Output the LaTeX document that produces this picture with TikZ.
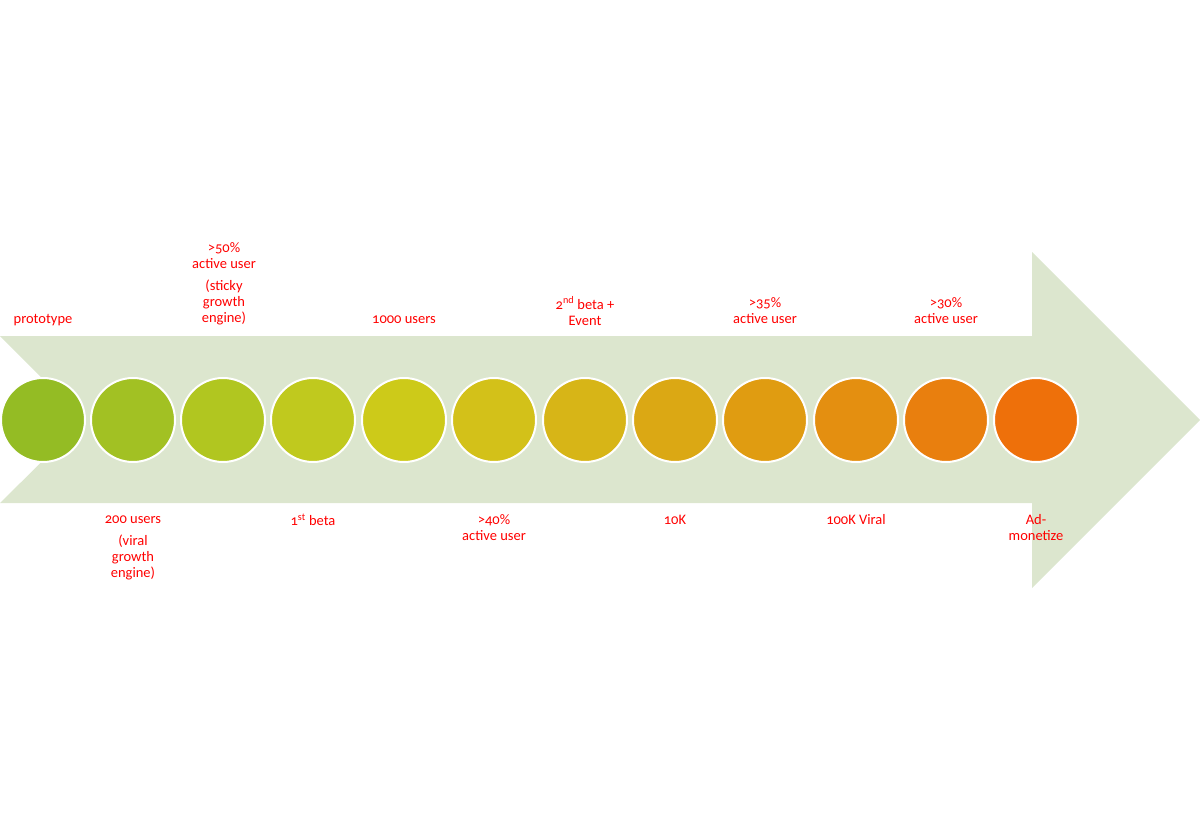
\documentclass[tikz,border=0pt]{standalone}
\usepackage{fontspec}
\setmainfont{Carlito}[Numbers=OldStyle]
\definecolor{arrowfill}{HTML}{DCE6CE}
\definecolor{lbl}{HTML}{FF0000}
\definecolor{k1}{HTML}{94BC24}
\definecolor{k2}{HTML}{A2C123}
\definecolor{k3}{HTML}{B1C620}
\definecolor{k4}{HTML}{C0C91E}
\definecolor{k5}{HTML}{CDCA19}
\definecolor{k6}{HTML}{D3C119}
\definecolor{k7}{HTML}{D7B517}
\definecolor{k8}{HTML}{DBA814}
\definecolor{k9}{HTML}{E09C11}
\definecolor{k10}{HTML}{E48F10}
\definecolor{k11}{HTML}{E97F0E}
\definecolor{k12}{HTML}{EE700A}
\tikzset{
  dot/.style={circle, draw=white, line width=2pt, minimum size=84pt, inner sep=0pt},
  lab/.style={text=lbl, font=\fontsize{14.5}{16}\selectfont, align=center, inner sep=0pt}
}
\begin{document}
\begin{tikzpicture}[x=1pt,y=-1pt]
\useasboundingbox (0,0) rectangle (1200,840);
% arrow
\fill[arrowfill] (0,336) -- (1032,336) -- (1032,252) -- (1200,420) -- (1032,588) -- (1032,503) -- (0,503) -- (84,420) -- cycle;
% circles
\foreach \i/\x in {1/43,2/133,3/223,4/313,5/404,6/494,7/585,8/675,9/765,10/856,11/946,12/1036}{
  \node[dot, fill=k\i] (c\i) at (\x,420) {};
}
% top labels
\node[lab] (t1) at (43,320) {prototype};
\node[lab] (t3a) at (224,256) {>50\%\\active user};
\node[lab] (t3b) at (224,302) {(sticky\\growth\\engine)};
\node[lab] (t5) at (404,320) {1000 users};
\node[lab] (t7) at (585,311) {2\textsuperscript{nd} beta +\\Event};
\node[lab] (t9) at (765,311) {>35\%\\active user};
\node[lab] (t11) at (946,311) {>30\%\\active user};
% bottom labels
\node[lab] (b2a) at (133,520) {200 users};
\node[lab] (b2b) at (133,557) {(viral\\growth\\engine)};
\node[lab] (b4) at (313,520) {1\textsuperscript{st} beta};
\node[lab] (b6) at (494,528) {>40\%\\active user};
\node[lab] (b8) at (675,520) {10K};
\node[lab] (b10) at (856,520) {100K Viral};
\node[lab] (b12) at (1036,528) {Ad-\\monetize};
\end{tikzpicture}
\end{document}
